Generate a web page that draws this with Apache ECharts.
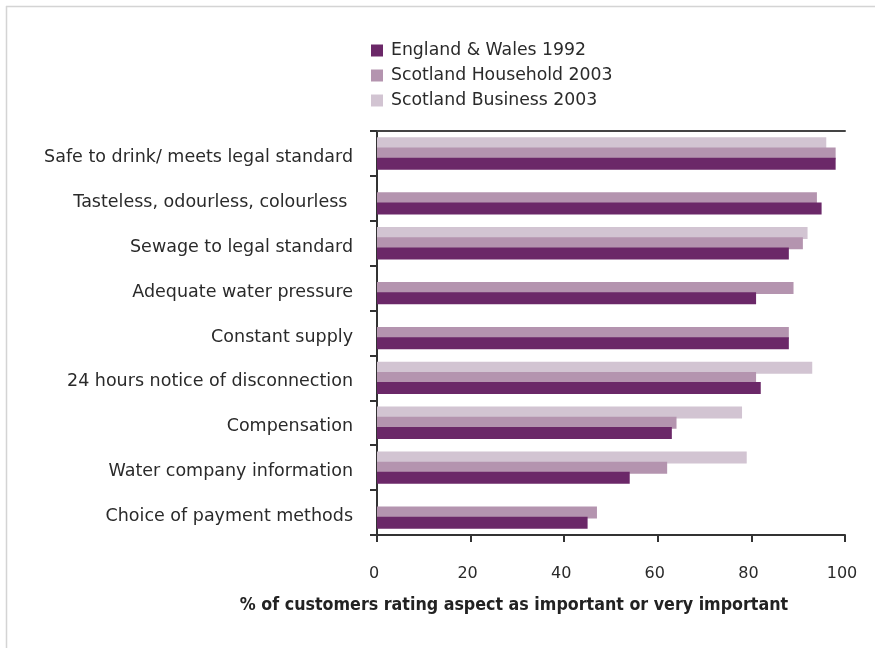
<!DOCTYPE html>
<html>
<head>
<meta charset="utf-8">
<script src="https://cdn.jsdelivr.net/npm/echarts@6/dist/echarts.min.js"></script>
<style>html,body{margin:0;padding:0;background:#fff;}#c{width:875px;height:648px;}</style>
</head>
<body>
<div id="c"></div>
<script>
var categories = [
  'Safe to drink/ meets legal standard',
  'Tasteless, odourless, colourless ',
  'Sewage to legal standard',
  'Adequate water pressure',
  'Constant supply',
  '24 hours notice of disconnection',
  'Compensation',
  'Water company information',
  'Choice of payment methods'
];
var englandWales1992 = [98, 95, 88, 81, 88, 82, 63, 54, 45];
var scotlandHousehold2003 = [98, 94, 91, 89, 88, 81, 64, 62, 47];
var scotlandBusiness2003 = [96, null, 92, null, null, 93, 78, 79, null];
var xTicks = [0, 20, 40, 60, 80, 100];

var FONT = 'DejaVu Sans';
var chart = echarts.init(document.getElementById('c'), null, {renderer: 'canvas'});
chart.setOption({
  animation: false,
  backgroundColor: '#fff',
  textStyle: {fontFamily: FONT},
  graphic: [
    {type: 'line', shape: {x1: 6, y1: 6.5, x2: 875, y2: 6.5}, style: {stroke: '#d4d4d4', lineWidth: 1.5}},
    {type: 'line', shape: {x1: 6.5, y1: 6, x2: 6.5, y2: 648}, style: {stroke: '#d4d4d4', lineWidth: 1.5}}
  ],
  title: {
    text: '% of customers rating aspect as important or very important',
    left: 509, top: 591, textAlign: 'center',
    textStyle: {fontFamily: 'DejaVu Sans Condensed', fontWeight: 'bold', fontSize: 17.7, color: '#222'}
  },
  legend: {
    orient: 'vertical', left: 366, top: 37, itemWidth: 12, itemHeight: 12, itemGap: 8,
    data: ['England & Wales 1992', 'Scotland Household 2003', 'Scotland Business 2003'],
    textStyle: {fontFamily: FONT, fontSize: 17.3, color: '#2a2a2a', padding: [0, 0, 0, 3]},
    icon: 'rect'
  },
  grid: [
    {left: 377, right: 30, top: 131, bottom: 113, containLabel: false},
    {left: 377, right: 30, top: 135, bottom: 109, containLabel: false}
  ],
  xAxis: [{
    gridIndex: 0, type: 'value', min: 0, max: 100, interval: 20, position: 'bottom',
    axisLine: {show: true, lineStyle: {color: '#333', width: 2}},
    axisTick: {show: true, inside: false, length: 7, lineStyle: {color: '#333', width: 2}},
    axisLabel: {fontFamily: FONT, fontSize: 16, color: '#2a2a2a', margin: 31, padding: [0, 6, 0, 0],
      formatter: function (v) { return xTicks.indexOf(v) >= 0 ? String(v) : ''; }},
    splitLine: {show: false}
  }, {
    gridIndex: 0, type: 'value', min: 0, max: 100, position: 'top',
    axisLine: {show: true, lineStyle: {color: '#444', width: 2}},
    axisTick: {show: false}, axisLabel: {show: false}, splitLine: {show: false}
  }, {
    gridIndex: 1, type: 'value', min: 0, max: 100, show: false
  }],
  yAxis: [{
    gridIndex: 0, type: 'category', data: categories, inverse: true,
    axisLine: {show: true, lineStyle: {color: '#333', width: 2}},
    axisTick: {show: true, length: 7, lineStyle: {color: '#333', width: 2}},
    axisLabel: {show: false}
  }, {
    gridIndex: 1, type: 'category', data: categories, inverse: true,
    axisLine: {show: false}, axisTick: {show: false},
    axisLabel: {fontFamily: FONT, fontSize: 17.5, color: '#2a2a2a', margin: 24}
  }],
  series: [
    {name: 'Scotland Business 2003', type: 'bar', data: scotlandBusiness2003, barWidth: 12, barGap: '-15%',
      xAxisIndex: 0, yAxisIndex: 0, itemStyle: {color: '#d2c4d2'}},
    {name: 'Scotland Household 2003', type: 'bar', data: scotlandHousehold2003, barWidth: 12, barGap: '-15%',
      xAxisIndex: 0, yAxisIndex: 0, itemStyle: {color: '#b494af'}},
    {name: 'England & Wales 1992', type: 'bar', data: englandWales1992, barWidth: 12, barGap: '-15%',
      xAxisIndex: 0, yAxisIndex: 0, itemStyle: {color: '#6b2868'}}
  ]
});
</script>
</body>
</html>
